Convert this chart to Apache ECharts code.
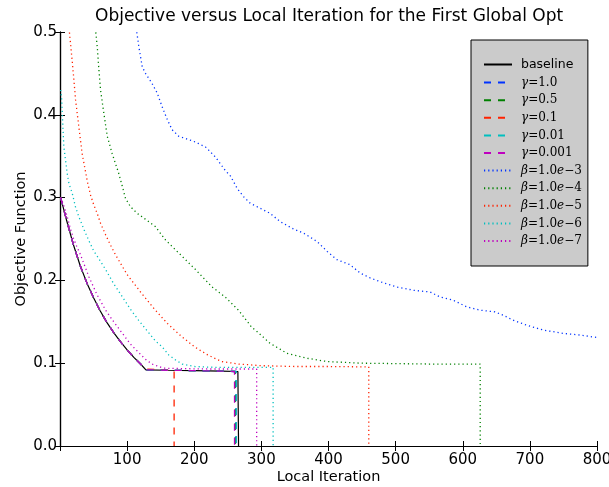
<!DOCTYPE html>
<html>
<head>
<meta charset="utf-8">
<script src="https://cdn.jsdelivr.net/npm/echarts@6/dist/echarts.min.js"></script>
<style>html,body{margin:0;padding:0;background:#fff}#c{width:609px;height:487px}</style>
</head>
<body>
<div id="c"></div>
<script>
// ---- data ----
const xTicks = [0, 100, 200, 300, 400, 500, 600, 700, 800];
const yTicks = [0.0, 0.1, 0.2, 0.3, 0.4, 0.5];

const baseX = [1,10,20,30,40,50,60,70,80,90,100,110,120,128,160,200,240,265,266];
const baseY = [0.300,0.272,0.243,0.218,0.197,0.179,0.163,0.149,0.137,0.126,0.116,0.107,0.099,0.092,0.0915,0.091,0.0905,0.090,0];

const g10X = [1,10,20,30,40,50,60,70,80,90,100,110,120,128,160,200,240,262,262];
const g10Y = [0.300,0.272,0.243,0.218,0.197,0.179,0.163,0.149,0.137,0.126,0.116,0.107,0.099,0.092,0.0915,0.091,0.0905,0.090,0];
const g05X = [1,10,20,30,40,50,60,70,80,90,100,110,120,128,160,200,240,261,261];
const g05Y = [0.300,0.272,0.243,0.218,0.197,0.179,0.163,0.149,0.137,0.126,0.116,0.107,0.099,0.092,0.0915,0.091,0.0905,0.090,0];
const g01X = [1,10,20,30,40,50,60,70,80,90,100,110,120,128,150,170,170];
const g01Y = [0.300,0.272,0.243,0.218,0.197,0.179,0.163,0.149,0.137,0.126,0.116,0.107,0.099,0.093,0.092,0.0915,0];
const g001X = [1,10,20,30,40,50,60,70,80,90,100,110,120,128,160,200,240,262.5,262.5];
const g001Y = [0.300,0.272,0.243,0.218,0.197,0.179,0.163,0.149,0.137,0.126,0.116,0.107,0.099,0.092,0.0915,0.091,0.0905,0.090,0];
const g0001X = [1,10,20,30,40,50,60,70,80,90,100,110,120,128,160,200,240,260,260];
const g0001Y = [0.300,0.272,0.243,0.218,0.197,0.179,0.163,0.149,0.137,0.126,0.116,0.107,0.099,0.092,0.0915,0.091,0.0905,0.090,0];

const b3X = [111,112,114,117.5,120,122.5,127.4,137,145,152,160,167,177,192,202,217,231.5,246,254,264,273.6,283.6,298.5,313,328,348,363,383,398,412.6,432,447,462,482,502,527,551.5,566,586,606,626,648,660,675,695,720,750,775,800];
const b3Y = [0.53,0.52,0.502,0.482,0.47,0.458,0.45,0.438,0.426,0.41,0.394,0.382,0.374,0.37,0.367,0.361,0.349,0.333,0.326,0.311,0.301,0.293,0.287,0.281,0.271,0.262,0.257,0.247,0.235,0.225,0.219,0.209,0.203,0.197,0.192,0.188,0.186,0.18,0.176,0.168,0.164,0.162,0.158,0.152,0.146,0.14,0.136,0.134,0.131];

const b4X = [45,53,55.5,58,60.4,65.3,70.4,77.8,87.6,92.7,97.6,105,115,127,142,157,177,202,226.6,246,266,286,291,313,338,368,398,450,500,550,600,626,626];
const b4Y = [0.56,0.502,0.482,0.454,0.43,0.402,0.374,0.353,0.329,0.314,0.299,0.289,0.281,0.274,0.265,0.249,0.233,0.213,0.192,0.18,0.164,0.143,0.14,0.124,0.112,0.106,0.102,0.100,0.0995,0.099,0.099,0.099,0];

const b5X = [8,14,18.3,20.7,23.2,28,33,40.6,45.5,50.4,55.4,60.4,68,75,82.7,100,120,140,160,180,200,220,241,266,300,350,400,460,460];
const b5Y = [0.56,0.50,0.464,0.442,0.418,0.386,0.353,0.32,0.303,0.291,0.281,0.269,0.255,0.243,0.231,0.207,0.186,0.166,0.148,0.133,0.12,0.11,0.102,0.099,0.097,0.096,0.096,0.0955,0];

const b6X = [1,2.4,4.3,5.8,8.3,10.8,13.3,18.3,23,28,36,43,50,58,68,80,93,105,117,130,142,152,162,172,182,200,230,260,290,317.5,317.5];
const b6Y = [0.43,0.42,0.386,0.361,0.345,0.329,0.317,0.305,0.289,0.277,0.261,0.248,0.236,0.226,0.213,0.196,0.18,0.165,0.152,0.139,0.127,0.12,0.11,0.104,0.099,0.096,0.095,0.095,0.095,0.095,0];

const b7X = [1,5,10,15,20,25,30,43,55,68,80,93,105,117,127,137,154,180,220,260,293,293];
const b7Y = [0.30,0.292,0.279,0.264,0.251,0.241,0.232,0.2045,0.183,0.164,0.150,0.136,0.123,0.113,0.105,0.099,0.094,0.0935,0.093,0.093,0.093,0];

const names = ['baseline','γ=1.0','γ=0.5','γ=0.1','γ=0.01','γ=0.001','β=1.0e−3','β=1.0e−4','β=1.0e−5','β=1.0e−6','β=1.0e−7'];
const seriesX = [baseX,g10X,g05X,g01X,g001X,g0001X,b3X,b4X,b5X,b6X,b7X];
const seriesY = [baseY,g10Y,g05Y,g01Y,g001Y,g0001Y,b3Y,b4Y,b5Y,b6Y,b7Y];
const colors = ['#000000','#0033ff','#008000','#ff2200','#00bfbf','#bf00bf','#0033ff','#008000','#ff2200','#00bfbf','#bf00bf'];
const styles = ['solid','dashed','dashed','dashed','dashed','dashed','dotted','dotted','dotted','dotted','dotted'];

// ---- chart ----
const FONT = 'DejaVu Sans';
const chart = echarts.init(document.getElementById('c'), null, {renderer:'canvas'});

function dash(s){
  if (s === 'dashed') return [7,7];
  if (s === 'dotted') return [1.2,3];
  return 'solid';
}

const series = names.map((n,i) => ({
  name: n,
  type: 'line',
  data: seriesX[i].map((x,j) => [x, seriesY[i][j]]),
  showSymbol: false,
  symbol: 'none',
  clip: true,
  smooth: false,
  lineStyle: {color: colors[i], width: i===0 ? 1.2 : 1.3, type: dash(styles[i])},
  itemStyle: {color: colors[i]},
  emphasis: {disabled: true},
  animation: false
}));

function legendFmt(n){
  if (n === 'baseline') return '{s|baseline}';
  const m = n.match(/^(γ|β)=(.*)$/);
  let rest = m[2];
  if (m[1] === 'β') {
    const p = rest.split('e');
    return '{it|β}{n|=' + p[0] + '}{it|e}{n|' + p[1] + '}';
  }
  return '{it|γ}{n|=' + rest + '}';
}

const axisCommon = {
  axisLine: {show:true, lineStyle:{color:'#000', width:1.2}},
  axisTick: {show:true, inside:true, length:5, lineStyle:{color:'#000', width:1}},
  splitLine: {show:false}
};

chart.setOption({
  animation: false,
  backgroundColor: '#fff',
  textStyle: {fontFamily: FONT},
  title: {
    text: 'Objective versus Local Iteration for the First Global Opt',
    left: 90, top: 3,
    textStyle: {fontFamily: FONT, fontSize: 17, fontWeight: 'normal', color: '#000'}
  },
  grid: {left: 60, right: 12, top: 32, bottom: 41, containLabel: false, outerBoundsMode: 'none'},
  legend: {
    orient: 'vertical',
    left: 471, top: 40,
    data: names,
    itemWidth: 28, itemHeight: 10, itemGap: 5.6,
    padding: [18, 6, 19, 12],
    backgroundColor: '#cbcbcb',
    borderColor: '#000', borderWidth: 1,
    formatter: legendFmt,
    itemStyle: {color: 'rgba(0,0,0,0)', borderColor: 'rgba(0,0,0,0)', borderWidth: 0, opacity: 0},
    textStyle: {
      fontFamily: FONT, fontSize: 12, color:'#000', width: 58, padding:[0,0,0,4],
      rich: {
        s: {fontFamily: FONT, fontSize: 12.5, color:'#000'},
        it: {fontFamily: 'DejaVu Serif', fontStyle: 'italic', fontSize: 12, color:'#000'},
        n: {fontFamily: 'DejaVu Serif', fontSize: 12, color:'#000'}
      }
    },
    selectedMode: false
  },
  xAxis: [
    Object.assign({
      type:'value', min: xTicks[0], max: xTicks[xTicks.length-1], interval: 100, position:'bottom',
      name: 'Local Iteration', nameLocation: 'middle', nameGap: 24, nameMoveOverlap: false,
      nameTextStyle: {fontFamily: FONT, fontSize: 14.5, color:'#000'},
      axisLabel: {show:true, color:'#000', fontFamily: FONT, fontSize: 15, margin: 7,
        formatter: v => (v === 0 ? '' : String(v))}
    }, axisCommon),
    Object.assign({
      type:'value', min: xTicks[0], max: xTicks[xTicks.length-1], interval: 100, position:'top',
      axisLabel: {show:false}
    }, axisCommon)
  ],
  yAxis: [
    Object.assign({
      type:'value', min: yTicks[0], max: yTicks[yTicks.length-1], interval: 0.1, position:'left',
      name: 'Objective Function', nameLocation: 'middle', nameGap: 31, nameMoveOverlap: false,
      nameTextStyle: {fontFamily: FONT, fontSize: 14.5, color:'#000'},
      axisLabel: {show:true, color:'#000', fontFamily: FONT, fontSize: 15, margin: 3,
        formatter: v => v.toFixed(1)}
    }, axisCommon),
    Object.assign({
      type:'value', min: yTicks[0], max: yTicks[yTicks.length-1], interval: 0.1, position:'right',
      axisLabel: {show:false}
    }, axisCommon)
  ],
  series: series
});
</script>
</body>
</html>
